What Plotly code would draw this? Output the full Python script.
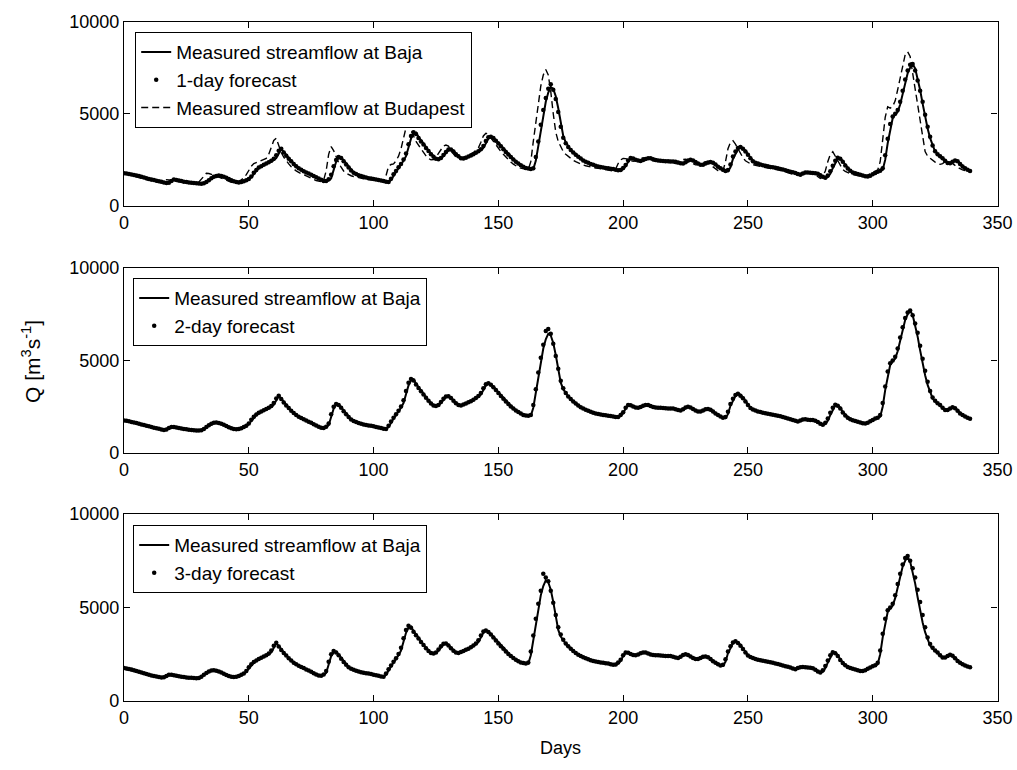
import plotly.graph_objects as go

days = list(range(340))

# Measured streamflow at Baja (m3/s), original daily record; panel k shows baja[k:k+340]
baja = [1780, 1760,
    1750,1730,1700,1680,1650,1610,1570,1540,1510,1480,
    1440,1400,1370,1340,1300,1270,1240,1290,1380,1420,
    1400,1370,1340,1320,1300,1280,1260,1240,1230,1220,
    1210,1220,1280,1380,1480,1570,1620,1640,1630,1590,
    1540,1470,1400,1340,1310,1280,1290,1330,1380,1440,
    1560,1740,1910,2050,2140,2220,2290,2360,2410,2480,
    2600,2850,3080,2950,2760,2590,2440,2300,2170,2050,
    1970,1900,1830,1770,1700,1640,1570,1500,1430,1370,
    1340,1380,1500,1950,2400,2600,2640,2480,2300,2120,
    1960,1820,1740,1680,1630,1590,1550,1520,1500,1480,
    1450,1420,1390,1360,1320,1290,1400,1650,1850,2050,
    2230,2450,2700,3150,3650,3920,3980,3750,3550,3380,
    3200,3020,2850,2700,2580,2530,2560,2700,2880,3020,
    3080,3000,2850,2720,2600,2560,2600,2660,2720,2770,
    2850,2940,3030,3150,3400,3650,3750,3720,3580,3430,
    3280,3120,2970,2820,2680,2540,2420,2310,2220,2140,
    2070,2040,2010,2000,2450,3300,4200,5000,5650,6150,
    6450,6350,5950,5300,4500,3800,3450,3230,3050,2920,
    2800,2680,2580,2480,2410,2350,2290,2240,2190,2150,
    2120,2090,2070,2050,2030,2010,1980,1940,1920,2000,
    2140,2400,2560,2600,2540,2480,2430,2470,2530,2580,
    2600,2560,2500,2460,2450,2440,2430,2420,2420,2410,
    2410,2370,2330,2290,2330,2430,2500,2480,2400,2310,
    2240,2220,2280,2340,2370,2360,2280,2150,2060,1980,
    1900,1880,2100,2550,2850,3080,3190,3150,3000,2820,
    2620,2450,2360,2310,2260,2220,2180,2160,2130,2110,
    2080,2050,2020,1990,1950,1910,1870,1840,1800,1740,
    1690,1730,1790,1820,1810,1790,1780,1770,1700,1600,
    1510,1560,1750,2050,2350,2570,2590,2450,2230,2060,
    1930,1830,1780,1740,1700,1660,1620,1600,1620,1700,
    1780,1850,1900,1960,2500,3400,4200,4760,4950,5100,
    5500,6100,6650,7190,7500,7690,7460,6900,6290,5550,
    4850,4200,3680,3250,2950,2800,2680,2590,2450,2320,
    2300,2380,2470,2440,2300,2150,2060,1980,1900,1840,
    1800]

budapest = [
    1760,1720,1690,1660,1620,1580,1540,1500,1460,1420,
    1390,1360,1330,1300,1270,1260,1340,1430,1410,1380,
    1350,1330,1310,1290,1270,1250,1240,1230,1220,1230,
    1300,1450,1650,1770,1760,1700,1660,1620,1570,1510,
    1440,1370,1320,1290,1280,1300,1350,1420,1520,1700,
    1950,2150,2300,2350,2400,2450,2500,2580,2800,3200,
    3550,3670,3300,2900,2650,2450,2280,2130,2000,1900,
    1820,1750,1680,1620,1560,1500,1440,1380,1340,1320,
    1400,1900,2800,3220,3000,2650,2350,2100,1900,1780,
    1700,1640,1600,1560,1530,1500,1480,1460,1440,1420,
    1390,1360,1330,1300,1310,1650,2150,2250,2280,2450,
    2700,3100,3700,4250,4440,4200,3800,3500,3300,3100,
    2900,2720,2580,2500,2520,2650,2850,3050,3250,3300,
    3250,3000,2800,2650,2580,2600,2650,2700,2750,2820,
    2900,3000,3150,3450,3800,3940,3900,3700,3500,3300,
    3100,2950,2800,2650,2500,2380,2270,2180,2100,2050,
    2010,1990,1980,2400,3500,4600,5600,6500,7100,7400,
    7100,6200,5000,4000,3500,3200,2950,2800,2680,2570,
    2480,2400,2330,2270,2220,2180,2140,2110,2080,2060,
    2040,2020,2000,1980,1950,1920,1900,2000,2300,2500,
    2580,2570,2520,2460,2420,2460,2520,2580,2620,2580,
    2530,2480,2450,2440,2430,2420,2410,2410,2400,2380,
    2340,2300,2300,2400,2520,2530,2460,2370,2290,2230,
    2240,2300,2380,2400,2330,2220,2100,2000,1920,1870,
    1900,2400,3100,3450,3540,3350,3100,2850,2620,2450,
    2350,2290,2240,2200,2170,2140,2110,2090,2070,2050,
    2020,1990,1960,1930,1890,1850,1810,1780,1730,1680,
    1720,1780,1810,1800,1780,1770,1760,1680,1580,1500,
    1600,1900,2400,2800,2940,2700,2400,2150,1980,1870,
    1800,1750,1710,1670,1630,1600,1590,1610,1690,1770,
    1840,1890,1950,2400,3600,4800,5380,5300,5400,5700,
    6300,7000,7700,8200,8360,8100,7200,6300,5400,4500,
    3600,2950,2700,2580,2480,2380,2300,2260,2300,2400,
    2420,2380,2300,2200,2100,2020,1960,1900,1860,1820]

forecast_1day = [
    1780,1760,1740,1710,1680,1650,1620,1580,1540,1500,
    1470,1440,1410,1370,1340,1310,1280,1250,1260,1350,
    1430,1410,1380,1350,1320,1300,1280,1260,1250,1230,
    1220,1210,1230,1300,1400,1500,1580,1630,1650,1630,
    1590,1530,1460,1390,1340,1300,1280,1300,1340,1400,
    1470,1600,1800,1950,2080,2160,2240,2310,2370,2450,
    2560,2750,3000,3100,2900,2720,2560,2420,2280,2150,
    2040,1960,1890,1820,1760,1690,1630,1560,1490,1420,
    1360,1350,1450,1700,2150,2500,2650,2600,2420,2250,
    2080,1930,1800,1730,1670,1620,1580,1540,1510,1490,
    1470,1440,1410,1380,1350,1310,1300,1480,1720,1900,
    2100,2280,2520,2850,3350,3800,4000,3900,3680,3500,
    3330,3150,2980,2810,2670,2560,2540,2600,2760,2930,
    3060,3060,2960,2810,2690,2590,2570,2620,2680,2740,
    2800,2880,2970,3080,3250,3520,3720,3760,3680,3540,
    3390,3240,3080,2930,2790,2650,2520,2400,2300,2210,
    2130,2060,2030,2010,2050,2650,3500,4400,5200,5850,
    6350,6600,6300,5800,5100,4300,3700,3400,3200,3030,
    2900,2780,2670,2570,2470,2400,2340,2280,2230,2180,
    2140,2110,2080,2060,2040,2020,2000,1970,1940,1950,
    2060,2220,2460,2600,2580,2510,2460,2440,2490,2550,
    2590,2590,2540,2490,2460,2450,2440,2430,2420,2410,
    2410,2400,2360,2320,2300,2370,2460,2510,2460,2380,
    2300,2240,2240,2300,2360,2380,2340,2250,2130,2050,
    1970,1900,1950,2250,2680,2950,3150,3200,3100,2950,
    2780,2590,2430,2350,2300,2250,2210,2180,2150,2120,
    2100,2070,2040,2010,1980,1940,1900,1860,1830,1790,
    1730,1700,1760,1810,1820,1800,1790,1780,1750,1670,
    1580,1530,1650,1880,2180,2450,2620,2560,2400,2190,
    2030,1910,1820,1770,1730,1690,1650,1610,1600,1640,
    1720,1790,1860,1910,2050,2750,3650,4450,4850,5000,
    5200,5650,6250,6850,7350,7650,7700,7350,6800,6250,
    5650,4950,4300,3750,3280,2970,2810,2690,2590,2450,
    2330,2320,2400,2470,2420,2280,2140,2050,1970,1900]

forecast_2day = [
    1760,1740,1710,1680,1650,1620,1580,1540,1510,1470,
    1440,1410,1370,1340,1310,1270,1250,1270,1350,1410,
    1410,1380,1350,1320,1300,1280,1260,1250,1230,1220,
    1210,1230,1300,1400,1500,1580,1630,1650,1620,1580,
    1530,1460,1390,1340,1300,1290,1300,1340,1400,1470,
    1600,1800,1960,2080,2170,2240,2310,2380,2440,2540,
    2700,2950,3100,2920,2730,2570,2430,2290,2160,2050,
    1960,1890,1820,1760,1690,1630,1560,1490,1420,1370,
    1350,1420,1600,2100,2500,2650,2600,2440,2260,2090,
    1940,1810,1730,1670,1620,1580,1540,1510,1490,1470,
    1440,1410,1380,1350,1310,1300,1470,1700,1900,2100,
    2280,2520,2850,3350,3800,4000,3920,3700,3520,3340,
    3160,2990,2820,2680,2570,2540,2600,2760,2930,3060,
    3070,2970,2820,2690,2590,2570,2620,2680,2740,2800,
    2880,2970,3080,3250,3500,3720,3770,3690,3550,3400,
    3240,3080,2930,2790,2650,2520,2400,2300,2210,2130,
    2060,2030,2010,2050,2600,3450,4350,5150,5850,6600,
    6700,6450,5900,5250,4550,3900,3500,3250,3060,2920,
    2790,2670,2570,2470,2400,2340,2280,2230,2180,2140,
    2110,2080,2060,2040,2020,2000,1970,1940,1950,2060,
    2200,2450,2590,2580,2510,2460,2440,2490,2550,2590,
    2590,2540,2490,2460,2450,2440,2430,2420,2410,2410,
    2400,2360,2320,2300,2370,2460,2500,2460,2380,2300,
    2240,2240,2300,2360,2380,2340,2250,2130,2050,1970,
    1900,1940,2230,2650,2930,3130,3200,3100,2960,2780,
    2590,2430,2350,2300,2250,2210,2180,2150,2120,2100,
    2070,2040,2010,1980,1940,1900,1860,1830,1790,1740,
    1700,1760,1810,1820,1800,1790,1780,1750,1670,1580,
    1530,1640,1870,2170,2450,2610,2560,2400,2190,2030,
    1910,1820,1770,1730,1690,1650,1610,1600,1640,1720,
    1790,1860,1910,2050,2700,3600,4400,4850,5000,5200,
    5650,6250,6800,7300,7600,7700,7450,7000,6500,5800,
    5100,4450,3850,3350,3000,2820,2690,2590,2450,2330,
    2320,2400,2470,2420,2280,2140,2050,1970,1900,1850]

forecast_3day = [
    1760,1740,1710,1680,1640,1600,1560,1520,1480,1440,
    1400,1370,1340,1310,1280,1260,1270,1340,1410,1410,
    1380,1350,1320,1300,1280,1260,1250,1240,1230,1220,
    1230,1300,1400,1500,1580,1630,1650,1620,1580,1530,
    1460,1390,1340,1300,1290,1300,1340,1400,1470,1600,
    1800,1960,2080,2170,2240,2310,2380,2440,2540,2700,
    2950,3120,2920,2730,2570,2430,2290,2160,2050,1960,
    1890,1820,1760,1690,1630,1560,1490,1420,1370,1350,
    1420,1600,2100,2500,2680,2600,2440,2260,2090,1940,
    1810,1730,1670,1620,1580,1540,1510,1490,1470,1440,
    1410,1380,1350,1310,1300,1470,1700,1900,2100,2280,
    2520,2850,3350,3800,4020,3920,3700,3520,3340,3160,
    2990,2820,2680,2570,2540,2600,2760,2930,3060,3070,
    2970,2820,2690,2590,2570,2620,2680,2740,2800,2880,
    2970,3080,3250,3500,3720,3770,3690,3550,3400,3240,
    3080,2930,2790,2650,2520,2400,2300,2210,2130,2060,
    2030,2010,2060,2650,3500,4400,5200,5900,6800,6600,
    6400,5900,5250,4600,3950,3550,3280,3080,2930,2800,
    2670,2570,2470,2400,2340,2280,2230,2180,2140,2110,
    2080,2060,2040,2020,2000,1970,1940,1950,2060,2200,
    2450,2590,2580,2510,2460,2440,2490,2550,2590,2590,
    2540,2490,2460,2450,2440,2430,2420,2410,2410,2400,
    2360,2320,2300,2370,2460,2500,2460,2380,2300,2240,
    2240,2300,2360,2380,2340,2250,2130,2050,1970,1900,
    1940,2230,2650,2930,3130,3200,3100,2960,2780,2590,
    2430,2350,2300,2250,2210,2180,2150,2120,2100,2070,
    2040,2010,1980,1940,1900,1860,1830,1790,1740,1700,
    1760,1810,1820,1800,1790,1780,1750,1670,1580,1530,
    1640,1870,2170,2450,2610,2560,2400,2190,2030,1910,
    1820,1770,1730,1690,1650,1610,1600,1640,1720,1790,
    1860,1910,2050,2700,3600,4400,4850,5000,5200,5650,
    6250,6800,7300,7650,7750,7500,7100,6600,5950,5300,
    4600,3950,3400,3050,2850,2700,2600,2450,2330,2320,
    2400,2470,2420,2280,2140,2050,1970,1900,1850,1810]

forecasts = [forecast_1day, forecast_2day, forecast_3day]
forecast_names = ["1-day forecast", "2-day forecast", "3-day forecast"]
x_ticks = [0, 50, 100, 150, 200, 250, 300, 350]
y_ticks = [0, 5000, 10000]
y_tick_labels = ["0", "5000", "10000"]

FONT = "Liberation Sans, Arial, Helvetica, sans-serif"
FS_TICK = 18
FS_LEG = 19
W, H = 1017, 770
x0, x1 = 124 / W, 997.5 / W
panels_px = [(21.5, 206), (268, 453), (514, 701)]
legend_px = [(135, 32), (133, 278), (133, 525)]

fig = go.Figure()
for i in range(3):
    k = i + 1
    xa = "x" if k == 1 else f"x{k}"
    ya = "y" if k == 1 else f"y{k}"
    leg = "legend" if k == 1 else f"legend{k}"
    fig.add_trace(go.Scatter(
        x=days, y=baja[k:k + len(days)], mode="lines",
        line=dict(color="black", width=2),
        name="Measured streamflow at Baja", xaxis=xa, yaxis=ya, legend=leg))
    fig.add_trace(go.Scatter(
        x=days, y=forecasts[i], mode="markers",
        marker=dict(color="black", size=4.5, symbol="circle"),
        name=forecast_names[i], xaxis=xa, yaxis=ya, legend=leg))
    if k == 1:
        fig.add_trace(go.Scatter(
            x=days, y=budapest, mode="lines",
            line=dict(color="black", width=1.4, dash="7px,4px"),
            name="Measured streamflow at Budapest", xaxis=xa, yaxis=ya, legend=leg))

layout = dict(
    width=W, height=H, margin=dict(l=0, r=0, t=0, b=0, autoexpand=False),
    paper_bgcolor="white", plot_bgcolor="white",
    font=dict(family=FONT, size=FS_TICK, color="black"),
    showlegend=True,
)
for i, (top, bot) in enumerate(panels_px):
    k = i + 1
    sfx = "" if k == 1 else str(k)
    axcommon = dict(showline=True, linecolor="black", linewidth=1.3, mirror="ticks",
                    ticks="inside", ticklen=6, tickcolor="black", tickwidth=1.3,
                    showgrid=False, zeroline=False, automargin=False,
                    tickfont=dict(family=FONT, size=FS_TICK, color="black"))
    layout["xaxis" + sfx] = dict(domain=[x0, x1], range=[0, 350], tickvals=x_ticks,
                                 ticktext=[str(v) for v in x_ticks],
                                 anchor="y" + sfx, **axcommon)
    layout["yaxis" + sfx] = dict(domain=[1 - bot / H, 1 - top / H], range=[0, 10000],
                                 tickvals=y_ticks, ticktext=y_tick_labels,
                                 anchor="x" + sfx, **axcommon)
    lx, ly = legend_px[i]
    layout["legend" + sfx] = dict(x=lx / W, y=1 - ly / H, xanchor="left", yanchor="top",
                                  xref="paper", yref="paper",
                                  bgcolor="white", bordercolor="black", borderwidth=1.2,
                                  font=dict(family=FONT, size=FS_LEG, color="black"),
                                  tracegroupgap=0, itemwidth=30)
fig.update_layout(**layout)

fig.add_annotation(text="Q [m<sup>3</sup>s<sup>-1</sup>]", textangle=-90,
                   x=31 / W, y=1 - 362 / H, xref="paper", yref="paper",
                   xanchor="center", yanchor="middle",
                   showarrow=False, font=dict(family=FONT, size=21, color="black"))
fig.add_annotation(text="Days", x=(124 + 997.5) / 2 / W, y=1 - 748 / H,
                   xref="paper", yref="paper", xanchor="center", yanchor="middle",
                   showarrow=False, font=dict(family=FONT, size=FS_TICK, color="black"))

fig.write_html("out.html")
